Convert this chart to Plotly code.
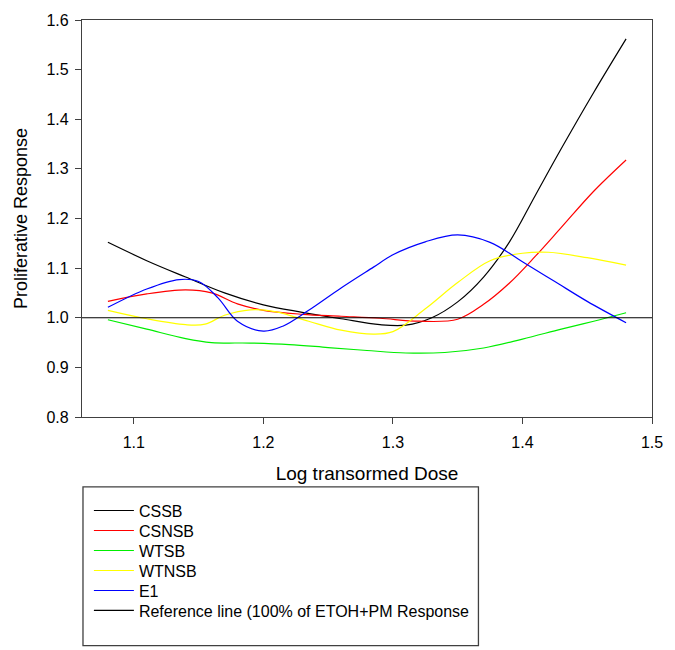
import plotly.graph_objects as go

# values
x_cssb = [1.08, 1.11, 1.14, 1.17, 1.20, 1.23, 1.26, 1.29, 1.31, 1.33, 1.35, 1.37, 1.39, 1.41, 1.43, 1.455, 1.48]
y_cssb = [1.152, 1.115, 1.082, 1.050, 1.026, 1.011, 0.998, 0.986, 0.985, 1.000, 1.032, 1.082, 1.153, 1.247, 1.341, 1.454, 1.562]

x_csnsb = [1.08, 1.11, 1.14, 1.16, 1.18, 1.20, 1.23, 1.26, 1.29, 1.32, 1.35, 1.37, 1.39, 1.41, 1.43, 1.455, 1.48]
y_csnsb = [1.033, 1.048, 1.056, 1.050, 1.028, 1.015, 1.007, 1.003, 0.999, 0.993, 0.997, 1.027, 1.070, 1.124, 1.182, 1.255, 1.318]

x_wtsb = [1.08, 1.11, 1.14, 1.16, 1.19, 1.22, 1.25, 1.28, 1.31, 1.34, 1.37, 1.40, 1.43, 1.455, 1.48]
y_wtsb = [0.996, 0.977, 0.958, 0.950, 0.949, 0.946, 0.940, 0.934, 0.929, 0.930, 0.939, 0.957, 0.977, 0.993, 1.010]

x_wtnsb = [1.08, 1.11, 1.14, 1.155, 1.17, 1.19, 1.21, 1.235, 1.26, 1.285, 1.30, 1.325, 1.35, 1.375, 1.40, 1.42, 1.45, 1.48]
y_wtnsb = [1.015, 0.998, 0.986, 0.987, 1.005, 1.016, 1.012, 0.993, 0.975, 0.967, 0.972, 1.018, 1.071, 1.115, 1.130, 1.132, 1.121, 1.106]

x_e1 = [1.08, 1.11, 1.135, 1.15, 1.165, 1.18, 1.20, 1.215, 1.235, 1.26, 1.285, 1.30, 1.325, 1.35, 1.375, 1.40, 1.425, 1.45, 1.48]
y_e1 = [1.021, 1.058, 1.077, 1.073, 1.040, 0.993, 0.973, 0.983, 1.015, 1.060, 1.102, 1.127, 1.153, 1.167, 1.152, 1.113, 1.073, 1.033, 0.990]

x_ref = [1.06, 1.50]
y_ref = [1.0, 1.0]

names = ["CSSB", "CSNSB", "WTSB", "WTNSB", "E1", "Reference line (100% of ETOH+PM Response"]
colors = ["#000000", "#ff0000", "#00ee00", "#ffff00", "#0000ff", "#000000"]
xs = [x_cssb, x_csnsb, x_wtsb, x_wtnsb, x_e1, x_ref]
ys = [y_cssb, y_csnsb, y_wtsb, y_wtnsb, y_e1, y_ref]

x_ticks = [1.1, 1.2, 1.3, 1.4, 1.5]
y_ticks = [0.8, 0.9, 1.0, 1.1, 1.2, 1.3, 1.4, 1.5, 1.6]

FONT = "Liberation Sans, Arial, sans-serif"

# layout geometry (pixels)
W, H = 675, 650
ML, MR, MT, MB = 82, 15, 14, 233
PW, PH = W - ML - MR, H - MT - MB


def py2paper(py):
    return (H - MB - py) / PH


def px2paper(px):
    return (px - ML) / PW


fig = go.Figure()
legend_ids = ["legend"] + [f"legend{i}" for i in range(2, 7)]
for i, (n, c, xv, yv) in enumerate(zip(names, colors, xs, ys)):
    fig.add_trace(go.Scatter(
        x=xv, y=yv, mode="lines", name=n, legend=legend_ids[i],
        line=dict(color=c, width=1.2, shape="spline" if i < 5 else "linear", smoothing=1.0),
    ))

axis_common = dict(
    showgrid=False, zeroline=False, showline=True, linecolor="#404040", linewidth=1.3,
    mirror=True, ticks="outside", ticklen=6, tickcolor="#404040", tickwidth=1.3,
    tickfont=dict(family=FONT, size=16, color="#000000"),
)

layout = dict(
    width=W, height=H,
    margin=dict(l=ML, r=MR, t=MT, b=MB),
    paper_bgcolor="white", plot_bgcolor="white",
    font=dict(family=FONT, color="#000000"),
    xaxis=dict(range=[1.06, 1.5], tickvals=x_ticks, ticktext=[f"{v:.1f}" for v in x_ticks],
               title=dict(text="Log transormed Dose", font=dict(family=FONT, size=19), standoff=16),
               ticklabelstandoff=5, **axis_common),
    yaxis=dict(range=[0.8, 1.6], tickvals=y_ticks, ticktext=[f"{v:.1f}" for v in y_ticks],
               title=dict(text="Proliferative Response", font=dict(family=FONT, size=18), standoff=14),
               ticklabelstandoff=3, **axis_common),
    showlegend=True,
    shapes=[dict(type="rect", xref="paper", yref="paper",
                 x0=px2paper(83), x1=px2paper(484), y0=py2paper(649), y1=py2paper(488),
                 line=dict(color="#404040", width=1.3), fillcolor="rgba(0,0,0,0)")],
)

# one legend entry per legend box, stacked like the reference
for i, lid in enumerate(legend_ids):
    cy = 512 + 20.3 * i
    layout[lid] = dict(x=px2paper(89), y=py2paper(cy), xanchor="left", yanchor="middle",
                       bgcolor="rgba(0,0,0,0)", borderwidth=0,
                       font=dict(family=FONT, size=16, color="#000000"), itemwidth=40)

fig.update_layout(**layout)
fig.write_html("out.html")
